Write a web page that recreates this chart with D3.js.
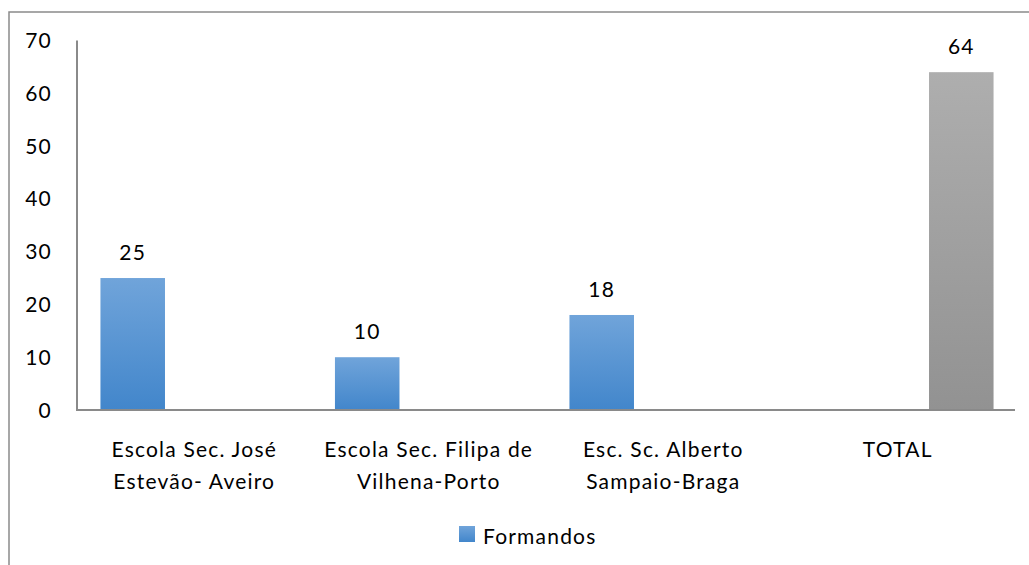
<!DOCTYPE html>
<html>
<head>
<meta charset="utf-8">
<script src="https://cdn.jsdelivr.net/npm/d3@7"></script>
<style>
  body { margin: 0; background: #fff; }
  text { font-family: Lato, "Open Sans", sans-serif; fill: #000; letter-spacing: 1.2px; }
</style>
</head>
<body>
<div id="chart"></div>
<script>
var w = 1029;
var h = 565;

// data
var categories = [["Escola Sec. José", "Estevão- Aveiro"], ["Escola Sec. Filipa de", "Vilhena-Porto"], ["Esc. Sc. Alberto", "Sampaio-Braga"], ["TOTAL"]];
var slots = ["a", "b", "c"];          // three series slots, middle unused
var formandos = [25, 10, 18, null];
var total = [null, null, null, 64];
var yTicks = [0, 10, 20, 30, 40, 50, 60, 70];

var blueTop = "#70a4da", blueBottom = "#4286cb";
var greyTop = "#aeaeae", greyBottom = "#929292";
var axisColor = "#8a8a8a";

var svg = d3.select("#chart").append("svg")
    .attr("width", w)
    .attr("height", h);

// gradients
var defs = svg.append("defs");
function grad(id, c1, c2) {
    var g = defs.append("linearGradient").attr("id", id)
        .attr("x1", 0).attr("y1", 0).attr("x2", 0).attr("y2", 1);
    g.append("stop").attr("offset", "0%").attr("stop-color", c1);
    g.append("stop").attr("offset", "100%").attr("stop-color", c2);
}
grad("gBlue", blueTop, blueBottom);
grad("gGrey", greyTop, greyBottom);

// outer frame (runs off the right and bottom of the picture)
svg.append("rect")
    .attr("x", 9).attr("y", 12)
    .attr("width", w + 20).attr("height", h + 20)
    .attr("fill", "none")
    .attr("stroke", axisColor)
    .attr("stroke-width", 1.5);

var plotLeft = 77, plotRight = 1015, plotBottom = 410, plotTop = 40.5;

var x0 = d3.scaleBand()
    .domain(d3.range(categories.length))
    .range([plotLeft, plotRight])
    .paddingInner(0.2)
    .paddingOuter(0.1);

var x1 = d3.scaleBand()
    .domain(slots)
    .range([0, x0.bandwidth()]);

var y = d3.scaleLinear()
    .domain([0, 70])
    .range([plotBottom, plotTop]);

// y tick labels
svg.selectAll(".ytick")
    .data(yTicks)
    .enter()
    .append("text")
    .attr("class", "ytick")
    .attr("x", 52)
    .attr("y", function (d) { return y(d); })
    .attr("dy", "0.36em")
    .attr("text-anchor", "end")
    .style("font-size", "21px")
    .text(function (d) { return d; });

// bars
var barW = x1.bandwidth() + 2;
function drawSeries(values, slot, fill) {
    var data = values.map(function (v, i) { return { i: i, v: v }; })
        .filter(function (d) { return d.v !== null; });
    svg.selectAll(".bar-" + slot)
        .data(data)
        .enter()
        .append("rect")
        .attr("class", "bar-" + slot)
        .attr("x", function (d) { return x0(d.i) + x1(slot); })
        .attr("y", function (d) { return y(d.v); })
        .attr("width", barW)
        .attr("height", function (d) { return y(0) - y(d.v); })
        .attr("fill", fill);
    svg.selectAll(".lab-" + slot)
        .data(data)
        .enter()
        .append("text")
        .attr("class", "lab-" + slot)
        .attr("x", function (d) { return x0(d.i) + x1(slot) + barW / 2; })
        .attr("y", function (d) { return y(d.v) - 18; })
        .attr("text-anchor", "middle")
        .style("font-size", "21px")
        .text(function (d) { return d.v; });
}
drawSeries(formandos, "a", "url(#gBlue)");
drawSeries(total, "c", "url(#gGrey)");

// axes lines
svg.append("line")
    .attr("x1", plotLeft).attr("x2", plotLeft)
    .attr("y1", plotTop).attr("y2", plotBottom)
    .attr("stroke", axisColor).attr("stroke-width", 2);
svg.append("line")
    .attr("x1", plotLeft - 1).attr("x2", plotRight)
    .attr("y1", plotBottom).attr("y2", plotBottom)
    .attr("stroke", axisColor).attr("stroke-width", 2);

// category labels
var cat = svg.selectAll(".cat")
    .data(categories)
    .enter()
    .append("text")
    .attr("class", "cat")
    .attr("text-anchor", "middle")
    .style("font-size", "21px");
cat.selectAll("tspan")
    .data(function (d, i) { return d.map(function (t) { return { t: t, i: i }; }); })
    .enter()
    .append("tspan")
    .attr("x", function (d) { return x0(d.i) + x0.bandwidth() / 2; })
    .attr("y", function (d, j) { return 457 + j * 32; })
    .text(function (d) { return d.t; });

// legend
svg.append("rect")
    .attr("x", 459).attr("y", 526)
    .attr("width", 16).attr("height", 16)
    .attr("fill", "url(#gBlue)");
svg.append("text")
    .attr("x", 483).attr("y", 544)
    .style("font-size", "21px")
    .text("Formandos");
</script>
</body>
</html>
